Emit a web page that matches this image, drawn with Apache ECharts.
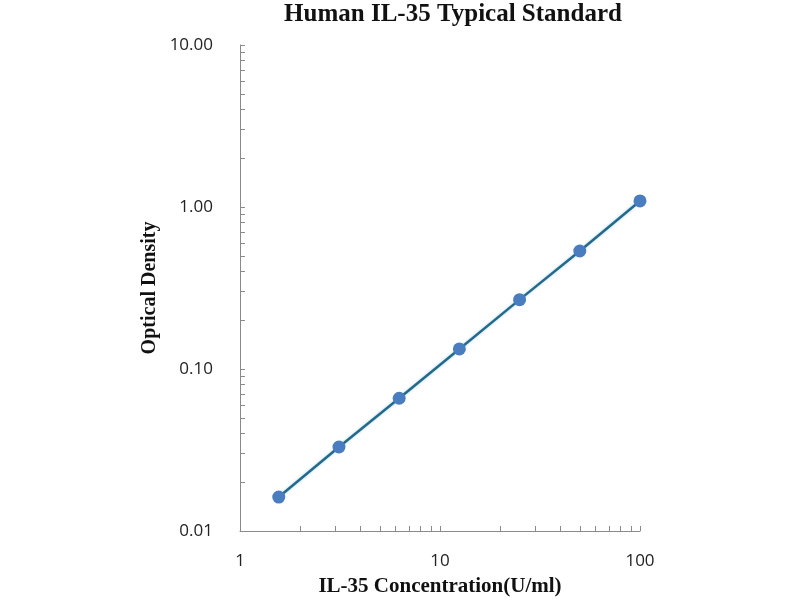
<!DOCTYPE html>
<html><head><meta charset="utf-8">
<script src="https://cdn.jsdelivr.net/npm/echarts@6/dist/echarts.min.js"></script>
<style>html,body{margin:0;padding:0;background:#fff}#c{width:800px;height:600px}</style>
</head><body><div id="c"></div>
<script>
const concentrations = [1.5625, 3.125, 6.25, 12.5, 25, 50, 100];
const opticalDensity = [0.0162, 0.033, 0.066, 0.133, 0.268, 0.535, 1.09];
const xTickValues = [1,2,3,4,5,6,7,8,9,10,20,30,40,50,60,70,80,90,100];
const yTickValues = [0.01,0.02,0.03,0.04,0.05,0.06,0.07,0.08,0.09,0.1,0.2,0.3,0.4,0.5,0.6,0.7,0.8,0.9,1,2,3,4,5,6,7,8,9,10];
const xLabels = [1, 10, 100];
const yLabels = [0.01, 0.1, 1, 10];

const chart = echarts.init(document.getElementById('c'));
const data = concentrations.map((x, i) => [x, opticalDensity[i]]);
chart.setOption({
  animation: false,
  title: {
    text: 'Human IL-35 Typical Standard',
    left: 448, top: -3, textAlign: 'center',
    textStyle: {fontFamily: 'Liberation Serif', fontWeight: 'bold', fontSize: 25, color: '#111'}
  },
  grid: {left: 240, right: 160, top: 45, bottom: 69, containLabel: false, outerBoundsMode: 'none'},
  xAxis: {
    type: 'log', logBase: 10, min: 1, max: 100,
    name: 'IL-35 Concentration(U/ml)', nameLocation: 'middle', nameGap: 45,
    nameTextStyle: {fontFamily: 'Liberation Serif', fontWeight: 'bold', fontSize: 21, color: '#111'},
    axisLine: {lineStyle: {color: '#8a8a8a', width: 1}},
    axisTick: {show: true, inside: true, length: 5, customValues: xTickValues, lineStyle: {color: '#8a8a8a'}},
    axisLabel: {customValues: xLabels, margin: 22, fontFamily: 'Open Sans', fontSize: 17, color: '#222'},
    splitLine: {show: false}
  },
  yAxis: {
    type: 'log', logBase: 10, min: 0.01, max: 10,
    name: 'Optical Density', nameLocation: 'middle', nameGap: 80, nameRotate: 90,
    nameTextStyle: {fontFamily: 'Liberation Serif', fontWeight: 'bold', fontSize: 20, color: '#111'},
    axisLine: {show: true, lineStyle: {color: '#8a8a8a', width: 1}},
    axisTick: {show: true, inside: true, length: 5, customValues: yTickValues, lineStyle: {color: '#8a8a8a'}},
    axisLabel: {customValues: yLabels, margin: 27, fontFamily: 'Open Sans', fontSize: 17, color: '#222',
      formatter: v => Number(v).toFixed(2)},
    splitLine: {show: false}
  },
  series: [{
    type: 'line', data: data,
    lineStyle: {color: '#256a8c', width: 2.5, shadowColor: 'rgba(120,190,230,0.6)', shadowBlur: 3},
    symbol: 'circle', symbolSize: 13,
    itemStyle: {color: '#4a7cc0'}
  }]
});
</script></body></html>
